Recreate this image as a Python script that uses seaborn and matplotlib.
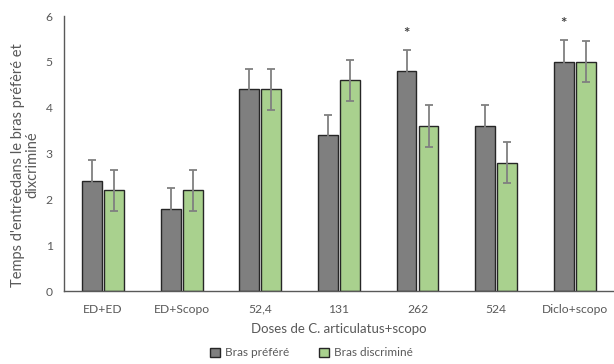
import matplotlib
matplotlib.use("Agg")
import matplotlib.pyplot as plt
import seaborn as sns
import pandas as pd
import numpy as np

categories = ["ED+ED", "ED+Scopo", "52,4", "131", "262", "524", "Diclo+scopo"]
series_names = ["Bras préféré", "Bras discriminé"]
prefere = [2.4, 1.8, 4.4, 3.4, 4.8, 3.6, 5.0]
discrimine = [2.2, 2.2, 4.4, 4.6, 3.6, 2.8, 5.0]
err_prefere = [0.45, 0.45, 0.45, 0.45, 0.45, 0.45, 0.47]
err_discrimine = [0.45, 0.45, 0.45, 0.45, 0.45, 0.45, 0.45]
signif = ["", "", "", "", "*", "", "*"]
yticks = [0, 1, 2, 3, 4, 5, 6]

sns.set_style("white")
plt.rcParams['font.family'] = ['Lato', 'DejaVu Sans']

df = pd.DataFrame({
    "cat": categories * 2,
    "serie": [series_names[0]] * len(categories) + [series_names[1]] * len(categories),
    "val": prefere + discrimine,
    "err": err_prefere + err_discrimine,
})

fig = plt.figure(figsize=(6.14, 3.64), dpi=100)
ax = fig.add_axes([0.104, 0.2005, 0.896, 0.7555])

palette = {series_names[0]: "#7f7f7f", series_names[1]: "#a9d18e"}
sns.barplot(data=df, x="cat", y="val", hue="serie", order=categories,
            hue_order=series_names, palette=palette, width=0.56, gap=0.1,
            edgecolor="#262626", linewidth=1.0, errorbar=None, ax=ax,
            saturation=1)

bars = [p for p in ax.patches if p.get_height() > 0]
bars = sorted(bars, key=lambda p: p.get_x())
xs = [p.get_x() + p.get_width() / 2 for p in bars]
vals = [p.get_height() for p in bars]
errs = []
for i in range(len(categories)):
    errs += [err_prefere[i], err_discrimine[i]]
ax.errorbar(xs, vals, yerr=errs, fmt="none", ecolor="#808080",
            elinewidth=1.3, capsize=3, capthick=1.3, zorder=5)

for i, s in enumerate(signif):
    if s:
        bx = xs[2 * i]
        ax.text(bx, prefere[i] + err_prefere[i] + 0.36, s, ha="center",
                va="center", fontsize=11, fontweight="bold", color="#404040")

ax.set_ylim(0, 6)
ax.set_xlim(-0.5, len(categories) - 0.5)
ax.set_yticks(yticks)
ax.tick_params(axis="both", length=0, labelsize=8.7, colors="#595959", pad=8)
ax.tick_params(axis="x", pad=9)
for side in ["top", "right"]:
    ax.spines[side].set_visible(False)
for side in ["left", "bottom"]:
    ax.spines[side].set_color("#595959")
    ax.spines[side].set_linewidth(1.0)

ax.set_xlabel("Doses de C. articulatus+scopo", fontsize=9.5, color="#595959", labelpad=6)
ax.set_ylabel("Temps d'entrèedans le bras préfèré et\ndixcriminé", fontsize=10.5,
              color="#595959", ha="center", multialignment="center", linespacing=1.05)
ax.yaxis.set_label_coords(-0.044, 0.458)

handles, labels = ax.get_legend_handles_labels()
ax.legend(handles, labels, loc="center", bbox_to_anchor=(0.45, -0.225), ncol=2,
          frameon=False, fontsize=8.5, handlelength=0.8, handleheight=0.8,
          columnspacing=2.6, handletextpad=0.4, labelcolor="#595959")

fig.savefig("out.png", dpi=100)
